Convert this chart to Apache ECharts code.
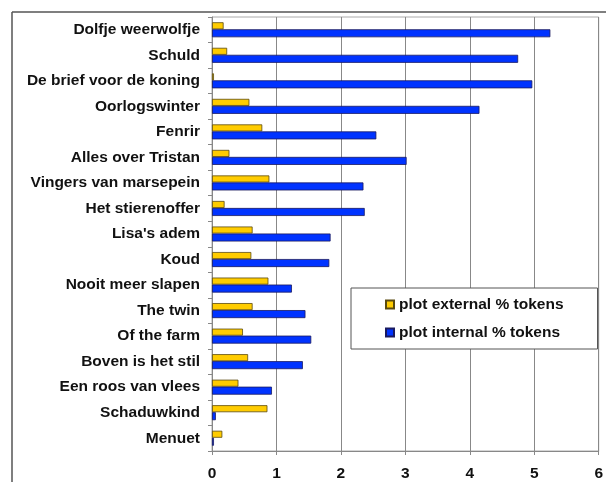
<!DOCTYPE html>
<html>
<head>
<meta charset="utf-8">
<script src="https://cdn.jsdelivr.net/npm/echarts@6/dist/echarts.min.js"></script>
<style>html,body{margin:0;padding:0;background:#fff;}#c{width:606px;height:482px;}</style>
</head>
<body>
<div id="c"></div>
<script>
const categories = ["Dolfje weerwolfje","Schuld","De brief voor de koning","Oorlogswinter","Fenrir","Alles over Tristan","Vingers van marsepein","Het stierenoffer","Lisa's adem","Koud","Nooit meer slapen","The twin","Of the farm","Boven is het stil","Een roos van vlees","Schaduwkind","Menuet"];
const externalValues = [0.18,0.235,0.03,0.58,0.78,0.27,0.89,0.195,0.63,0.61,0.875,0.63,0.48,0.56,0.41,0.86,0.16];
const internalValues = [5.25,4.75,4.97,4.15,2.55,3.02,2.35,2.37,1.84,1.82,1.24,1.45,1.54,1.41,0.93,0.06,0.03];
const xTicks = [0,1,2,3,4,5,6];

const FONT = '"Liberation Sans", Arial, sans-serif';
const chart = echarts.init(document.getElementById('c'));
chart.setOption({
  animation: false,
  backgroundColor: '#fff',
  textStyle: { fontFamily: FONT },
  graphic: [
    { type: 'line', shape: { x1: 12, y1: 12, x2: 606, y2: 12 }, style: { stroke: '#555', lineWidth: 1.5 } },
    { type: 'line', shape: { x1: 12, y1: 12, x2: 12, y2: 482 }, style: { stroke: '#555', lineWidth: 1.5 } }
  ],
  grid: { left: 212, right: 3, top: 17, bottom: 31, show: true, borderColor: '#aaa', borderWidth: 1 },
  legend: {
    orient: 'vertical',
    left: 351, top: 288,
    padding: [8, 34, 8, 34],
    itemWidth: 8, itemHeight: 8, itemGap: 11,
    borderColor: '#555', borderWidth: 1, backgroundColor: '#fff',
    icon: 'rect',
    textStyle: { fontFamily: FONT, fontWeight: 'bold', fontSize: 15.5, color: '#111', lineHeight: 17 },
    data: ['plot external % tokens', 'plot internal % tokens']
  },
  xAxis: {
    type: 'value', min: 0, max: 6, interval: 1,
    axisLine: { show: true, lineStyle: { color: '#888' } },
    axisTick: { show: true, length: 4, lineStyle: { color: '#888' } },
    splitLine: { show: true, lineStyle: { color: '#888', width: 1 } },
    axisLabel: { fontFamily: FONT, fontWeight: 'bold', fontSize: 15.5, color: '#111', margin: 15,
      formatter: v => xTicks.includes(v) ? String(v) : '' }
  },
  yAxis: {
    type: 'category', inverse: true, data: categories,
    axisLine: { show: true, lineStyle: { color: '#888' } },
    axisTick: { show: true, length: 4, lineStyle: { color: '#888' } },
    axisLabel: { fontFamily: FONT, fontWeight: 'bold', fontSize: 15.5, color: '#111', margin: 12 }
  },
  series: [
    { name: 'plot external % tokens', type: 'bar', data: externalValues, barWidth: 7, barGap: '0%',
      itemStyle: { color: '#FFCC00', borderColor: '#5a4a10', borderWidth: 0.8 } },
    { name: 'plot internal % tokens', type: 'bar', data: internalValues, barWidth: 8, barGap: '0%',
      itemStyle: { color: '#0033FF', borderColor: '#1a1a60', borderWidth: 0.8 } }
  ]
});
</script>
</body>
</html>
